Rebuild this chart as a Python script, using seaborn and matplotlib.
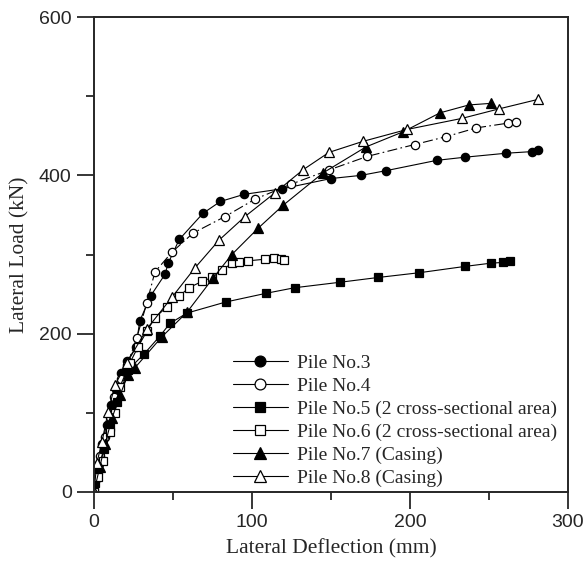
import matplotlib
matplotlib.use("Agg")
import matplotlib.pyplot as plt
import seaborn as sns
import pandas as pd
from matplotlib.ticker import MultipleLocator

sns.set_style("ticks")

# ---- data (mm, kN) ----
p3_x = [0, 2, 3, 5, 8, 11, 14, 17, 21, 26.6, 29, 36, 45, 47, 54, 69, 80, 95, 119, 150, 169, 185, 217, 235, 261, 277, 281]
p3_y = [0, 18, 35, 60, 85, 110, 130, 150, 165, 183, 216, 248, 275, 289, 319, 352, 367, 376, 383, 396, 400, 406, 419, 423, 428, 430, 432]

p4_x = [0, 2, 4, 7, 10, 13, 17, 21, 27, 33.5, 38.6, 49.4, 62.7, 83, 102, 125, 149, 173, 203, 223, 242, 262, 267]
p4_y = [0, 22, 45, 70, 95, 120, 143, 160, 194, 239, 278, 303, 327, 348, 370, 389, 407, 424, 439, 449, 460, 466, 467]

p5_x = [0, 0.6, 2.5, 6.3, 10.1, 14.6, 21.5, 31.6, 41.8, 48.1, 58.9, 83.5, 109, 127, 156, 180, 206, 235, 251, 259, 263]
p5_y = [0, 11, 28, 54, 82, 114, 154, 174, 197, 213, 226, 240, 251, 258, 265, 271, 277, 285, 289, 290, 292]

p6_x = [0, 2.5, 5.7, 10.1, 13.3, 16.5, 22.8, 27.8, 33.5, 38.6, 46.2, 53.8, 60.1, 68.4, 74.7, 81, 87.3, 91.8, 97.5, 108, 114, 118.4, 120.3]
p6_y = [0, 19, 39, 76, 100, 133, 163, 183, 203, 220, 234, 247, 258, 266, 271, 280, 289, 290, 292, 294, 295, 294, 293]

p7_x = [0, 3.8, 7, 11.4, 16.5, 21.5, 26, 43, 58.9, 75.3, 87.3, 103.8, 119.6, 144.9, 172.2, 195.6, 219, 237.3, 251.3]
p7_y = [0, 32, 60, 93, 122, 148, 157, 196, 227, 270, 300, 333, 362, 403, 436, 455, 479, 489, 491]

p8_x = [0, 1.9, 5.1, 8.9, 13.3, 20.9, 33.5, 49.4, 63.9, 79.1, 95.6, 114.6, 132.3, 148.7, 170.3, 198.1, 232.9, 256.3, 281]
p8_y = [0, 37, 63, 101, 135, 163, 206, 246, 283, 318, 348, 378, 407, 429, 443, 458, 472, 484, 496]

labels = ["Pile No.3", "Pile No.4", "Pile No.5 (2 cross-sectional area)",
          "Pile No.6 (2 cross-sectional area)", "Pile No.7 (Casing)", "Pile No.8 (Casing)"]

series = [(p3_x, p3_y), (p4_x, p4_y), (p5_x, p5_y), (p6_x, p6_y), (p7_x, p7_y), (p8_x, p8_y)]
markers = ["o", "o", "s", "s", "^", "^"]
filled = [True, False, True, False, True, False]
styles = ["-", (0, (9, 3, 1.5, 3)), "-", "-", "-", "-"]
msizes = [6.0, 6.0, 5.8, 5.8, 6.5, 6.5]

fig = plt.figure(figsize=(5.87, 5.70), dpi=100)
ax = fig.add_axes([0.160, 0.137, 0.8076, 0.833])

serif = ["Liberation Serif", "DejaVu Serif"]
sans = ["Liberation Sans", "DejaVu Sans"]

for (xs, ys), lab, mk, fl, ls, ms in zip(series, labels, markers, filled, styles, msizes):
    df = pd.DataFrame({"x": xs, "y": ys})
    sns.lineplot(data=df, x="x", y="y", ax=ax, sort=False, estimator=None,
                 color="black", linewidth=0.8, linestyle=ls,
                 marker=mk, markersize=ms,
                 markerfacecolor="black" if fl else "white",
                 markeredgecolor="black", markeredgewidth=0.9,
                 label=lab)

ax.set_xlim(0, 300)
ax.set_ylim(0, 600)
ax.xaxis.set_major_locator(MultipleLocator(100))
ax.xaxis.set_minor_locator(MultipleLocator(50))
ax.yaxis.set_major_locator(MultipleLocator(200))
ax.yaxis.set_minor_locator(MultipleLocator(100))
ax.tick_params(which="major", direction="out", length=12, width=1.3, labelsize=14, pad=4)
ax.tick_params(which="minor", direction="out", length=6, width=1.3)
for lbl in ax.get_xticklabels() + ax.get_yticklabels():
    lbl.set_fontfamily(sans)
for sp in ax.spines.values():
    sp.set_visible(True)
    sp.set_linewidth(1.4)

ax.set_xlabel("Lateral Deflection (mm)", fontsize=15.5, family=serif, labelpad=6)
ax.set_ylabel("Lateral Load (kN)", fontsize=15.5, family=serif, labelpad=7)

leg = ax.legend(loc="lower left", bbox_to_anchor=(0.293, 0.011), frameon=False,
                prop={"family": serif, "size": 14}, handlelength=2.83,
                handletextpad=0.45, labelspacing=0.27, markerscale=1.3,
                borderaxespad=0.0, borderpad=0.0)
for h in leg.legend_handles:
    h.set_linestyle("-")

fig.savefig("out.png", dpi=100)
